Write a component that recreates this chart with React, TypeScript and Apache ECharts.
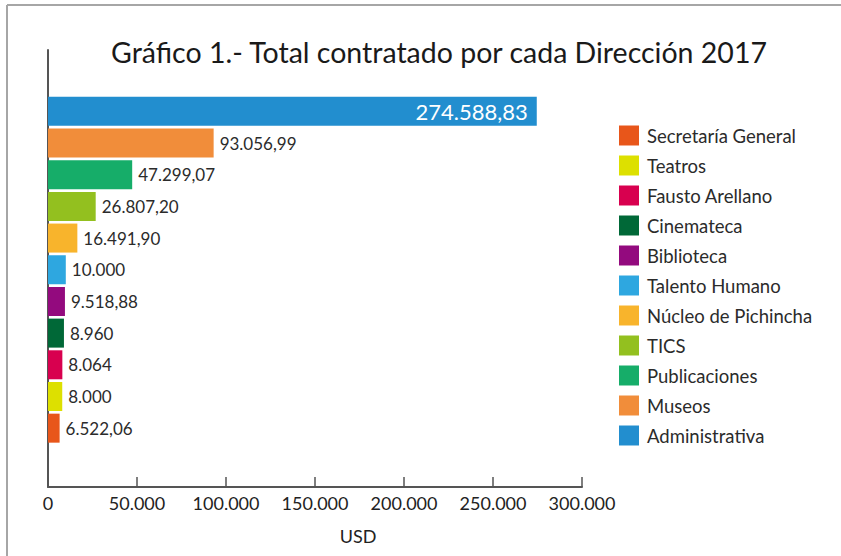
import React, { useEffect, useRef } from "react";
import * as echarts from "echarts";

const categories = [
  "Secretaría General",
  "Teatros",
  "Fausto Arellano",
  "Cinemateca",
  "Biblioteca",
  "Talento Humano",
  "Núcleo de Pichincha",
  "TICS",
  "Publicaciones",
  "Museos",
  "Administrativa",
];
const values = [6522.06, 8000, 8064, 8960, 9518.88, 10000, 16491.9, 26807.2, 47299.07, 93056.99, 274588.83];
const colors = [
  "#E8561A", "#DDE000", "#D8004F", "#006837", "#930A7E", "#2EA7E0",
  "#F8B42C", "#93C01F", "#16AD69", "#F18D3A", "#228ECF",
];
const axisMax = 300000;
const axisStep = 50000;

function fmt(v: number): string {
  const isInt = Math.abs(v - Math.round(v)) < 1e-9;
  const fixed = isInt ? String(Math.round(v)) : v.toFixed(2);
  const [ip, dp] = fixed.split(".");
  const withSep = ip.replace(/\B(?=(\d{3})+(?!\d))/g, ".");
  return dp ? withSep + "," + dp : withSep;
}

export default function App() {
  const ref = useRef<HTMLDivElement>(null);
  useEffect(() => {
    if (!ref.current) return;
    const chart = echarts.init(ref.current, null, { renderer: "svg" });
    const last = categories.length - 1;
    const series = categories.map((name, i) => ({
      name,
      type: "bar",
      stack: "all",
      xAxisIndex: 1,
      yAxisIndex: 1,
      barWidth: 29,
      itemStyle: { color: colors[i] },
      data: categories.map((_, j) => (j === i ? values[i] : "-")),
      label: {
        show: true,
        position: i === last ? "insideRight" : "right",
        distance: i === last ? 9 : 6,
        color: i === last ? "#ffffff" : "#2b2b2b",
        fontFamily: "Lato",
        fontSize: i === last ? 22 : 17,
        formatter: (p: any) => fmt(p.value),
      },
    }));
    chart.setOption({
      animation: false,
      backgroundColor: "#ffffff",
      title: {
        text: "Gráfico 1.- Total contratado por cada Dirección 2017",
        left: 434,
        top: 32,
        textAlign: "center",
        textStyle: { fontFamily: "Lato", fontWeight: "normal", fontSize: 28.5, color: "#1a1a1a" },
      },
      legend: {
        orient: "vertical",
        left: 619,
        top: 125.5,
        padding: 0,
        itemWidth: 20,
        itemHeight: 20,
        itemGap: 10,
        icon: "rect",
        textStyle: { fontFamily: "Lato", fontSize: 18.5, lineHeight: 20, color: "#2b2b2b", padding: [0, 0, 0, 3] },
        data: categories,
      },
      grid: [
        { left: 48, top: 50, width: 534, height: 437, containLabel: false },
        { left: 48, top: 95.5, width: 534, height: 348.5, containLabel: false },
      ],
      xAxis: [
        {
          gridIndex: 0,
          type: "value",
          min: 0,
          max: axisMax,
          interval: axisStep,
          splitLine: { show: false },
          axisLine: { show: true, lineStyle: { color: "#555555", width: 2 } },
          axisTick: { show: true, inside: true, length: 10, lineStyle: { color: "#555555", width: 1.5 } },
          axisLabel: { fontFamily: "Lato", fontSize: 18, color: "#222222", margin: 7, formatter: (v: number) => fmt(v) },
        },
        {
          gridIndex: 1,
          type: "value",
          min: 0,
          max: axisMax,
          show: false,
        },
      ],
      yAxis: [
        {
          gridIndex: 0,
          type: "category",
          data: [],
          axisLine: { show: true, lineStyle: { color: "#555555", width: 2 } },
          axisTick: { show: false },
          axisLabel: { show: false },
        },
        {
          gridIndex: 1,
          type: "category",
          data: categories,
          show: false,
        },
      ],
      graphic: [
        { type: "line", shape: { x1: 7, y1: 5, x2: 841, y2: 5 }, style: { stroke: "#a6a6a6", lineWidth: 2 } },
        { type: "line", shape: { x1: 7, y1: 5, x2: 7, y2: 556 }, style: { stroke: "#a6a6a6", lineWidth: 2 } },
        {
          type: "text",
          x: 358,
          y: 536,
          style: { text: "USD", fontFamily: "Lato", fontSize: 18, fill: "#222222", textAlign: "center", textVerticalAlign: "middle" },
        },
      ],
      series,
    });
    return () => chart.dispose();
  }, []);
  return <div ref={ref} style={{ position: "fixed", left: 0, top: 0, width: 841, height: 556 }} />;
}
